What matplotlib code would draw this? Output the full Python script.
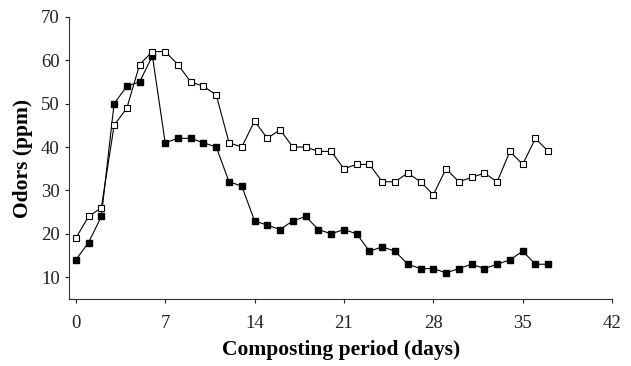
import numpy as np
import matplotlib
matplotlib.use("Agg")
import matplotlib.pyplot as plt

plt.rcParams['font.family'] = ['Liberation Serif', 'DejaVu Serif']

# Composting days
days = list(range(0, 38))

# Open squares
odor_open = [19, 24, 26, 45, 49, 59, 62, 62, 59, 55, 54, 52, 41, 40, 46, 42, 44, 40, 40, 39,
             39, 35, 36, 36, 32, 32, 34, 32, 29, 35, 32, 33, 34, 32, 39, 36, 42, 39]

# Filled squares
odor_filled = [14, 18, 24, 50, 54, 55, 61, 41, 42, 42, 41, 40, 32, 31, 23, 22, 21, 23, 24, 21,
               20, 21, 20, 16, 17, 16, 13, 12, 12, 11, 12, 13, 12, 13, 14, 16, 13, 13]

xticks = [0, 7, 14, 21, 28, 35, 42]
yticks = [10, 20, 30, 40, 50, 60, 70]

fig = plt.figure(figsize=(6.31, 3.66), dpi=100)
ax = fig.add_axes([0.110, 0.182, 0.860, 0.772])

ax.plot(days, odor_filled, color='black', lw=0.8, marker='s', ms=5,
        mfc='black', mec='black', zorder=3)
ax.plot(days, odor_open, color='black', lw=0.8, marker='s', ms=5,
        mfc='white', mec='black', mew=0.8, zorder=3)

ax.set_xlim(-0.5, 42)
ax.set_ylim(4.9, 70)
ax.set_xticks(xticks)
ax.set_yticks(yticks)
ax.tick_params(labelsize=13.5, direction='out', length=3, width=0.8, colors='#222222')
ax.tick_params(axis='x', pad=8)
ax.tick_params(axis='y', pad=4)

ax.spines['top'].set_visible(False)
ax.spines['right'].set_visible(False)
for s in ('left', 'bottom'):
    ax.spines[s].set_linewidth(0.8)
    ax.spines[s].set_color('#333333')

ax.set_xlabel('Composting period (days)', fontsize=15.5, fontweight='bold', labelpad=6)
ax.set_ylabel('Odors (ppm)', fontsize=15.5, fontweight='bold', labelpad=6)

fig.savefig('out.png', dpi=100)
